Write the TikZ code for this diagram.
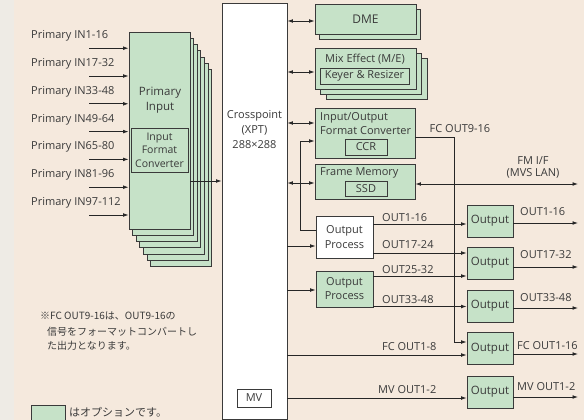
\documentclass[tikz,border=0pt]{standalone}
\usepackage{fontspec}
\setmainfont{Open Sans}
\newfontfamily\jpfont{Noto Sans CJK JP}
\usetikzlibrary{arrows.meta}
\definecolor{bg}{HTML}{F5E9DD}
\definecolor{strip}{HTML}{EEEBE5}
\definecolor{opt}{HTML}{C6E2C8}
\definecolor{ink}{HTML}{3A3A3A}
\begin{document}
\begin{tikzpicture}[x=1pt,y=-1pt,
  font=\fontsize{11}{14}\selectfont,
  every node/.style={text=ink},
  gbox/.style={draw=ink, fill=opt, line width=0.9pt, inner sep=0pt},
  wbox/.style={draw=ink, fill=white, line width=0.9pt, inner sep=0pt},
  lbl/.style={inner sep=0pt},
  wire/.style={draw=black!85, line width=0.8pt},
  arr/.style={wire, -{Latex[length=5.5pt,width=3.8pt]}},
  darr/.style={wire, {Latex[length=5.5pt,width=3.8pt]}-{Latex[length=5.5pt,width=3.8pt]}},
  jp/.style={lbl, font=\jpfont\fontsize{10}{12}\selectfont, anchor=west}
]
\fill[bg] (0,0) rectangle (584,420);
\fill[strip] (0,0) rectangle (14,420);
\useasboundingbox (0,0) rectangle (584,420);

% Primary input stack
\foreach \k in {6,5,...,1}{
  \node[gbox, minimum width=61pt, minimum height=197pt] (pi\k) at ({159.5+3.6*\k},{130.5+6.3*\k}) {};
}
\node[gbox, minimum width=61pt, minimum height=197pt] (pi0) at (159.5,130.5) {};
\node[lbl, align=center, font=\fontsize{11.5}{15}\selectfont] (pitext) at (160,100) {Primary\\Input};
\node[gbox, minimum width=57pt, minimum height=44pt, align=center, font=\fontsize{10.5}{13.5}\selectfont] (ifc) at (159.5,150) {Input\\Format\\Converter};

% input labels and arrows
\foreach \i/\t in {0/IN1-16,1/IN17-32,2/IN33-48,3/IN49-64,4/IN65-80,5/IN81-96,6/IN97-112}{
  \node[lbl, anchor=west] (inl\i) at (31,{36+27.8*\i}) {Primary \t};
  \coordinate (in\i) at (89,{48.2+27.8*\i});
  \draw[arr] (in\i) -- (in\i -| pi0.west);
}

% Crosspoint
\node[wbox, minimum width=65pt, minimum height=416pt] (xpt) at (254.5,211) {};
\node[lbl, align=center, font=\fontsize{11}{15}\selectfont] (xpttext) at (254.5,130) {Crosspoint\\(XPT)\\288×288};
\node[wbox, minimum width=34pt, minimum height=18pt] (mv) at (254,398) {MV};

\draw[arr] (pi0.east |- 0,181) -- (xpt.west |- 0,181);

% DME
\node[gbox, minimum width=101pt, minimum height=30pt] (dmes) at (370,24.5) {};
\node[gbox, minimum width=101pt, minimum height=30pt, font=\fontsize{12}{14}\selectfont] (dme) at (365.5,19) {DME};

% Mix Effect
\node[gbox, minimum width=101pt, minimum height=41pt] (mes2) at (376.5,78.5) {};
\node[gbox, minimum width=101pt, minimum height=41pt] (mes1) at (371,73.5) {};
\node[gbox, minimum width=101pt, minimum height=41pt] (me) at (365.5,68.5) {};
\node[lbl] (metext) at (365,59) {Mix Effect (M/E)};
\node[gbox, minimum width=89pt, minimum height=16pt] (keyer) at (364.5,76) {Keyer \& Resizer};

% Input/Output Format Converter
\node[gbox, minimum width=100pt, minimum height=50pt] (iofc) at (365,133) {};
\node[lbl, align=left, anchor=west] (iofctext) at (320,124) {Input/Output\\Format Converter};
\node[gbox, minimum width=42pt, minimum height=16pt] (ccr) at (366,147) {CCR};

% Frame Memory
\node[gbox, minimum width=100pt, minimum height=35pt] (fm) at (365,181.5) {};
\node[lbl, anchor=west] (fmtext) at (320,173) {Frame Memory};
\node[gbox, minimum width=42pt, minimum height=15pt] (ssd) at (366,188.5) {SSD};

% Output Process
\node[wbox, minimum width=57pt, minimum height=42pt, align=center, font=\fontsize{11}{15.5}\selectfont] (op1) at (344.5,237) {Output\\Process};
\node[gbox, minimum width=57pt, minimum height=36pt, align=center, font=\fontsize{11}{14}\selectfont] (op2) at (344.5,289) {Output\\Process};

% Output boxes
\foreach \n/\y in {1/221,2/263,3/306,4/348.5,5/392}{
  \node[gbox, minimum width=46pt, minimum height=32pt, font=\fontsize{11.5}{14}\selectfont] (o\n) at (490,\y) {Output};
}

% XPT links
\draw[darr] (xpt.east |- 0,21) -- (dme.west |- 0,21);
\draw[darr] (xpt.east |- 0,72) -- (me.west |- 0,72);
\draw[darr] (xpt.east |- 0,123) -- (iofc.west |- 0,123);
\draw[darr] (xpt.east |- 0,183) -- (fm.west |- 0,183);
\draw[arr] (xpt.east |- 0,246) -- (op1.west |- 0,246);
\draw[arr] (xpt.east |- 0,290) -- (op2.west |- 0,290);

\coordinate (j1) at (300,230);
\draw[arr] (op1.west |- j1) -- (j1) |- (iofc.west |- 0,141);

% Output process -> outputs
\draw[arr] (op1.east |- 0,224) -- (o1.west |- 0,224);
\draw[arr] (op1.east |- 0,253) -- (o2.west |- 0,253);
\draw[arr] (op2.east |- 0,276) -- (o2.west |- 0,276);
\draw[arr] (op2.east |- 0,306.5) -- (o3.west |- 0,306.5);
\draw[arr] (xpt.east |- 0,355) -- (o4.west |- 0,355);
\draw[arr] (xpt.east |- 0,398) -- (o5.west |- 0,398);

\coordinate (j2) at (454,137);
\draw[arr] (iofc.east |- j2) -- (j2) |- (o4.west |- 0,342);

\coordinate (fmif) at (578,184);
\draw[darr] (fm.east |- fmif) -- (fmif);

\foreach \n/\y in {1/223,2/267,3/308,4/354,5/397}{
  \coordinate (out\n) at (578,\y);
  \draw[arr] (o\n.east |- out\n) -- (out\n);
}

% labels
\node[lbl] (fc916) at (460,129) {FC OUT9-16};
\node[lbl, align=center, font=\fontsize{11}{12}\selectfont] (fmiftext) at (533,167) {FM I/F\\(MVS LAN)};
\node[lbl, anchor=west] (l1) at (382,218) {OUT1-16};
\node[lbl, anchor=west] (l2) at (382,245) {OUT17-24};
\node[lbl, anchor=west] (l3) at (382,270) {OUT25-32};
\node[lbl, anchor=west] (l4) at (382,300) {OUT33-48};
\node[lbl, anchor=west] (l5) at (382,347) {FC OUT1-8};
\node[lbl, anchor=west] (l6) at (378,390) {MV OUT1-2};
\node[lbl, anchor=west] (r1) at (520,212) {OUT1-16};
\node[lbl, anchor=west] (r2) at (520,255) {OUT17-32};
\node[lbl, anchor=west] (r3) at (520,298) {OUT33-48};
\node[lbl, anchor=west] (r4) at (517,346) {FC OUT1-16};
\node[lbl, anchor=west] (r5) at (517,387) {MV OUT1-2};

% notes
\node[jp] (note1) at (40,316) {※FC OUT9-16は、OUT9-16の};
\node[jp] (note2) at (47,332) {信号をフォーマットコンバートし};
\node[jp] (note3) at (47,346) {た出力となります。};

\node[gbox, minimum width=34pt, minimum height=18pt, anchor=north west] (legend) at (31,405) {};
\node[jp, font=\jpfont\fontsize{11}{13}\selectfont] (legendtext) at (69,412) {はオプションです。};
\end{tikzpicture}
\end{document}
